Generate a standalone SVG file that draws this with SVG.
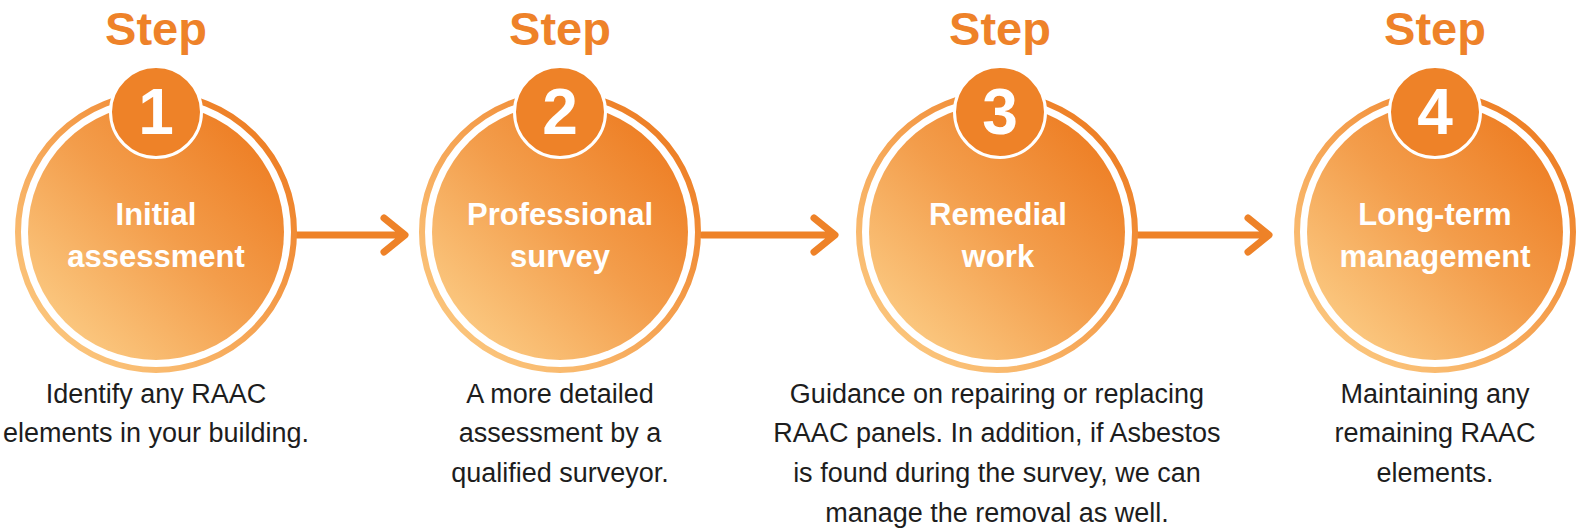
<svg xmlns="http://www.w3.org/2000/svg" width="1580" height="528" viewBox="0 0 1580 528">
<defs>
<linearGradient id="g" x1="0.15" y1="0.9" x2="0.85" y2="0.15">
<stop offset="0" stop-color="#FBC880"/>
<stop offset="0.55" stop-color="#F39D4B"/>
<stop offset="1" stop-color="#EE8128"/>
</linearGradient>
<linearGradient id="gr" x1="0.15" y1="0.9" x2="0.85" y2="0.15">
<stop offset="0" stop-color="#FBC57C"/>
<stop offset="0.55" stop-color="#F5A150"/>
<stop offset="1" stop-color="#EE8128"/>
</linearGradient>
</defs>
<style>
.ring{fill:none;stroke:url(#gr);stroke-width:6}
.disc{fill:url(#g)}
.badge{fill:#EE8228;stroke:#fff;stroke-width:3}
.step{font-family:"Liberation Sans",Arial,sans-serif;font-weight:bold;font-size:47px;fill:#EE8229;text-anchor:middle}
.num{font-family:"Liberation Sans",Arial,sans-serif;font-weight:bold;font-size:64px;fill:#fff;text-anchor:middle}
.lbl{font-family:"Liberation Sans",Arial,sans-serif;font-weight:bold;font-size:31px;fill:#fff;text-anchor:middle}
.desc{font-family:"Liberation Sans",Arial,sans-serif;font-size:27px;fill:#1d1d1d;text-anchor:middle}
.arr{fill:none;stroke:#EE8228;stroke-width:7;stroke-linecap:round;stroke-linejoin:round}
</style>
<rect width="1580" height="528" fill="#fff"/>
<g id="connectors">
<path class="arr" d="M297 235H404M384 218L405 235L384 252"/>
<path class="arr" d="M702 235H834M814 218L835 235L814 252"/>
<path class="arr" d="M1138 235H1268M1248 218L1269 235L1248 252"/>
</g>
<g id="step1">
<text class="step" x="156" y="45">Step</text>
<circle class="ring" cx="156" cy="232" r="138"/>
<circle class="disc" cx="156" cy="232" r="128"/>
<circle class="badge" cx="156" cy="112" r="45.5"/>
<text class="num" x="156" y="134">1</text>
<text class="lbl" x="156" y="225">Initial</text>
<text class="lbl" x="156" y="267">assessment</text>
<text class="desc" x="156" y="403">Identify any RAAC</text>
<text class="desc" x="156" y="442">elements in your building.</text>
</g>
<g id="step2">
<text class="step" x="560" y="45">Step</text>
<circle class="ring" cx="560" cy="232" r="138"/>
<circle class="disc" cx="560" cy="232" r="128"/>
<circle class="badge" cx="560" cy="112" r="45.5"/>
<text class="num" x="560" y="134">2</text>
<text class="lbl" x="560" y="225">Professional</text>
<text class="lbl" x="560" y="267">survey</text>
<text class="desc" x="560" y="403">A more detailed</text>
<text class="desc" x="560" y="442">assessment by a</text>
<text class="desc" x="560" y="482">qualified surveyor.</text>
</g>
<g id="step3">
<text class="step" x="1000" y="45">Step</text>
<circle class="ring" cx="997" cy="232" r="138"/>
<circle class="disc" cx="997" cy="232" r="128"/>
<circle class="badge" cx="1000" cy="112" r="45.5"/>
<text class="num" x="1000" y="134">3</text>
<text class="lbl" x="998" y="225">Remedial</text>
<text class="lbl" x="998" y="267">work</text>
<text class="desc" x="997" y="403">Guidance on repairing or replacing</text>
<text class="desc" x="997" y="442">RAAC panels. In addition, if Asbestos</text>
<text class="desc" x="997" y="482">is found during the survey, we can</text>
<text class="desc" x="997" y="522">manage the removal as well.</text>
</g>
<g id="step4">
<text class="step" x="1435" y="45">Step</text>
<circle class="ring" cx="1435" cy="232" r="138"/>
<circle class="disc" cx="1435" cy="232" r="128"/>
<circle class="badge" cx="1435" cy="112" r="45.5"/>
<text class="num" x="1435" y="134">4</text>
<text class="lbl" x="1435" y="225">Long-term</text>
<text class="lbl" x="1435" y="267">management</text>
<text class="desc" x="1435" y="403">Maintaining any</text>
<text class="desc" x="1435" y="442">remaining RAAC</text>
<text class="desc" x="1435" y="482">elements.</text>
</g>
</svg>
